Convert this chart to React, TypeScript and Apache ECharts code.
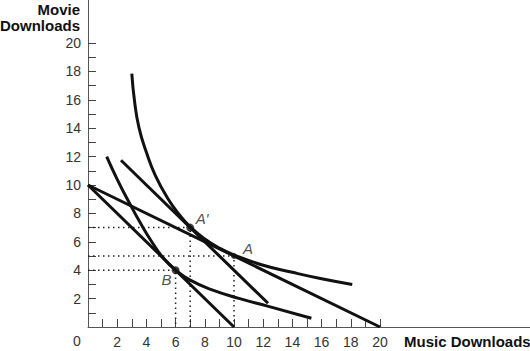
import React, { useEffect, useRef } from "react";
import * as echarts from "echarts";

const xLabelValues = [2, 4, 6, 8, 10, 12, 14, 16, 18, 20];
const yLabelValues = [2, 4, 6, 8, 10, 12, 14, 16, 18, 20];
const tickValues = [1, 2, 3, 4, 5, 6, 7, 8, 9, 10, 11, 12, 13, 14, 15, 16, 17, 18, 19, 20];

const indifferenceHigh = [
  [3.0, 17.85], [3.2, 15.8], [3.5, 14.0], [4.0, 12.3], [4.6, 10.7], [5.5, 9.0],
  [6.3, 7.85], [7.0, 7.05], [8.0, 6.2], [9.0, 5.55], [10.05, 5.05], [12, 4.35],
  [14, 3.85], [16, 3.4], [18.1, 3.0],
];
const indifferenceLow = [
  [1.28, 12.0], [2.0, 10.4], [2.8, 8.8], [3.6, 7.3], [4.4, 5.95], [5.2, 4.8],
  [6.0, 4.0], [7.0, 3.3], [8.4, 2.65], [10.4, 2.0], [12.3, 1.47], [15.3, 0.62],
];
const budgetOriginal = [[0, 10], [20, 0]];
const budgetNew = [[0, 10], [10, 0]];
const budgetCompensated = [[2.26, 11.74], [12.33, 1.67]];

const dottedA1 = [[0, 7], [7, 7], [7, 0]];
const dottedA = [[0, 5], [10, 5], [10, 0]];
const dottedB = [[0, 4], [6, 4], [6, 0]];

const pointNames = ["A′", "A", "B"];
const pointValues = [[7, 7], [10, 5], [6, 4]];

const FONT = "'Liberation Sans', Arial, Helvetica, sans-serif";

export default function App() {
  const ref = useRef<HTMLDivElement>(null);
  useEffect(() => {
    if (!ref.current) return;
    const chart = echarts.init(ref.current, null, { renderer: "svg" });
    const curveStyle = { color: "#111", width: 3 };
    const dotStyle = { color: "#222", width: 1.5, type: [1.5, 3.5] as any };
    const lineSeries = (data: number[][], smooth: boolean, style: any, z = 2) => ({
      type: "line",
      data,
      smooth: smooth ? 0.5 : false,
      showSymbol: false,
      symbol: "none",
      lineStyle: style,
      z,
      silent: true,
    });
    const offsets = [[12, -9], [14, -8], [-9, 9]];
    const sizes = [8, 6, 8];
    chart.setOption({
      animation: false,
      grid: { left: 88, right: 0, top: 0, bottom: 24, containLabel: false, outerBoundsMode: "none" },
      xAxis: {
        type: "value",
        min: 0,
        max: 442 / 14.6,
        splitLine: { show: false },
        axisLine: { show: true, lineStyle: { color: "#555", width: 1 } },
        axisTick: { show: true, inside: true, length: 8, customValues: tickValues, lineStyle: { color: "#444", width: 1 } },
        axisLabel: { customValues: xLabelValues, color: "#333", fontSize: 14, fontFamily: FONT, margin: 8 },
      },
      yAxis: {
        type: "value",
        min: 0,
        max: 327 / 14.2,
        splitLine: { show: false },
        axisLine: { show: true, lineStyle: { color: "#555", width: 1 } },
        axisTick: { show: true, inside: true, length: 8, customValues: tickValues, lineStyle: { color: "#444", width: 1 } },
        axisLabel: { customValues: yLabelValues, color: "#333", fontSize: 14, fontFamily: FONT, margin: 7 },
      },
      graphic: [
        {
          type: "text",
          x: 80,
          y: 1,
          style: {
            text: "Movie\nDownloads",
            fill: "#111",
            font: `bold 15px ${FONT}`,
            textAlign: "right",
            textVerticalAlign: "top",
            lineHeight: 16,
          },
        },
        {
          type: "text",
          x: 404,
          y: 341,
          style: {
            text: "Music Downloads",
            fill: "#111",
            font: `bold 15px ${FONT}`,
            textAlign: "left",
            textVerticalAlign: "middle",
          },
        },
        {
          type: "text",
          x: 77,
          y: 341,
          style: {
            text: "0",
            fill: "#333",
            font: `14px ${FONT}`,
            textAlign: "center",
            textVerticalAlign: "middle",
          },
        },
      ],
      series: [
        lineSeries(dottedA1, false, dotStyle, 1),
        lineSeries(dottedA, false, dotStyle, 1),
        lineSeries(dottedB, false, dotStyle, 1),
        lineSeries(budgetOriginal, false, curveStyle),
        lineSeries(budgetNew, false, curveStyle),
        lineSeries(budgetCompensated, false, curveStyle),
        lineSeries(indifferenceHigh, true, curveStyle),
        lineSeries(indifferenceLow, true, curveStyle),
        {
          type: "scatter",
          z: 5,
          silent: true,
          itemStyle: { color: "#111" },
          data: pointValues.map((v, i) => ({
            value: v,
            symbolSize: sizes[i],
            label: {
              show: true,
              position: "inside",
              offset: offsets[i],
              formatter: pointNames[i],
              color: "#222",
              fontSize: 15,
              fontStyle: "italic",
              fontFamily: FONT,
            },
          })),
        },
      ],
    });
    return () => chart.dispose();
  }, []);
  return (
    <div
      ref={ref}
      style={{ position: "fixed", left: 0, top: 0, width: 530, height: 351, background: "#fff" }}
    />
  );
}
